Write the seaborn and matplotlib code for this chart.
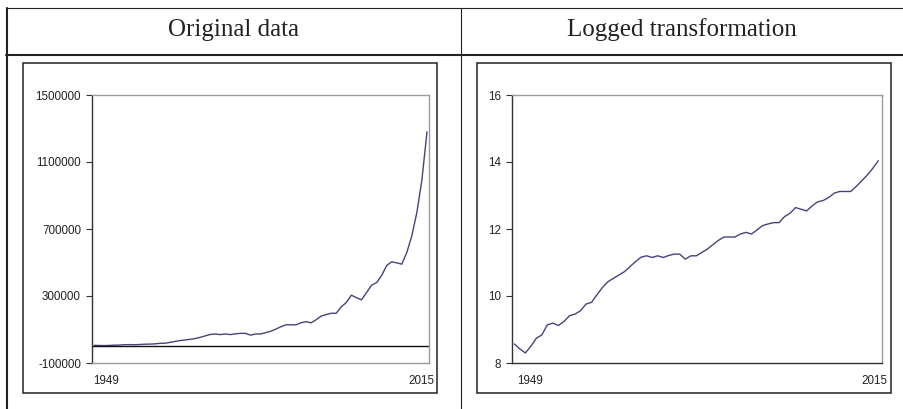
import numpy as np
import pandas as pd
import seaborn as sns
import matplotlib
matplotlib.use("Agg")
import matplotlib.pyplot as plt
from matplotlib.lines import Line2D
from matplotlib.patches import Rectangle

# ---- data -----------------------------------------------------------------
years = list(range(1949, 2016))

original = [5300, 4500, 4000, 4900, 6300, 6900, 9300, 9800, 9100, 10300,
            12200, 12800, 14200, 17300, 18200, 22900, 28600, 33900, 37500, 41400,
            45800, 53200, 61800, 70400, 73300, 69700, 73300, 69700, 74000, 77000,
            77000, 66300, 73300, 73300, 81000, 89500, 101900, 116000, 128000, 128000,
            128000, 140000, 147000, 140000, 158000, 180000, 189000, 197000, 197000, 236000,
            261000, 305000, 290000, 277000, 320000, 364000, 380000, 422000, 482000, 504000,
            498000, 490000, 560000, 660000, 800000, 995000, 1280000]

logged = [8.57, 8.42, 8.30, 8.50, 8.74, 8.84, 9.14, 9.19, 9.12, 9.24,
          9.41, 9.46, 9.56, 9.76, 9.81, 10.04, 10.26, 10.43, 10.53, 10.63,
          10.73, 10.88, 11.03, 11.16, 11.20, 11.15, 11.20, 11.15, 11.21, 11.25,
          11.25, 11.10, 11.20, 11.20, 11.30, 11.40, 11.53, 11.66, 11.76, 11.76,
          11.76, 11.85, 11.90, 11.85, 11.97, 12.10, 12.15, 12.19, 12.19, 12.37,
          12.47, 12.64, 12.59, 12.54, 12.69, 12.81, 12.85, 12.94, 13.07, 13.12,
          13.12, 13.12, 13.27, 13.44, 13.61, 13.81, 14.04]

headers = ["Original data", "Logged transformation"]
orig_ticks = [-100000, 300000, 700000, 1100000, 1500000]
log_ticks = [8, 10, 12, 14, 16]
end_labels = ["1949", "2015"]

df = pd.DataFrame({"year": years, "original": original, "logged": logged})

# ---- styling --------------------------------------------------------------
sns.set_style("white")
plt.rcParams["font.family"] = ["Liberation Sans", "DejaVu Sans"]

W, H = 904, 409
LINE_COLOR = "#45447a"
DARK = "#222222"
GREY = "#9a9a9a"


def fx(x):
    return x / W


def fy(y):
    return 1 - y / H


fig = plt.figure(figsize=(W / 100, H / 100), dpi=100)
fig.patch.set_facecolor("white")

# ---- table frame ----------------------------------------------------------
def hline(y, x0, x1, lw):
    fig.add_artist(Line2D([fx(x0), fx(x1)], [fy(y), fy(y)],
                          transform=fig.transFigure, color=DARK, lw=lw))


def vline(x, y0, y1, lw):
    fig.add_artist(Line2D([fx(x), fx(x)], [fy(y0), fy(y1)],
                          transform=fig.transFigure, color=DARK, lw=lw))


hline(8, 6, 904, 0.8)
hline(55, 6, 904, 1.5)
vline(7, 8, 409, 1.5)
vline(461, 8, 409, 0.8)

fig.text(fx(234), fy(30), headers[0], ha="center", va="center",
         fontsize=18, family=["Liberation Serif", "DejaVu Serif"], color=DARK)
fig.text(fx(682), fy(30), headers[1], ha="center", va="center",
         fontsize=18, family=["Liberation Serif", "DejaVu Serif"], color=DARK)

# chart boxes inside each cell
for x0, x1 in [(23, 437), (477, 891)]:
    fig.add_artist(Rectangle((fx(x0), fy(393)), fx(x1) - fx(x0), fy(63) - fy(393),
                             transform=fig.transFigure, fill=False,
                             edgecolor=DARK, lw=1.1))

# ---- axes -----------------------------------------------------------------
ax1 = fig.add_axes([fx(92), fy(363), (429 - 92) / W, (363 - 95) / H])
ax2 = fig.add_axes([fx(512), fy(363), (882 - 512) / W, (363 - 95) / H])

sns.lineplot(data=df, x="year", y="original", ax=ax1, color=LINE_COLOR, lw=1)
sns.lineplot(data=df, x="year", y="logged", ax=ax2, color=LINE_COLOR, lw=1)

ax1.set_ylim(orig_ticks[0], orig_ticks[-1])
ax1.set_yticks(orig_ticks)
ax1.set_yticklabels([str(v) for v in orig_ticks])
ax1.set_xlim(1948.55, 2015.4)
ax1.axhline(0, color="#111111", lw=1)

ax2.set_ylim(log_ticks[0], log_ticks[-1])
ax2.set_yticks(log_ticks)
ax2.set_yticklabels([str(v) for v in log_ticks])
ax2.set_xlim(1948.58, 2015.67)

for ax, bottom_dark, lab_pos in [(ax1, False, (0.003, 1.015)),
                                 (ax2, True, (0.0135, 1.0135))]:
    ax.set_xlabel("")
    ax.set_ylabel("")
    ax.set_xticks([])
    for side in ["top", "right", "bottom", "left"]:
        ax.spines[side].set_visible(True)
        ax.spines[side].set_color(GREY)
        ax.spines[side].set_linewidth(1)
    ax.spines["left"].set_color("#333333")
    if bottom_dark:
        ax.spines["bottom"].set_color("#333333")
    ax.tick_params(axis="y", direction="out", length=4, width=0.8,
                   color="#333333", pad=4, labelsize=8.4, labelcolor=DARK, left=True)
    ax.text(lab_pos[0], -0.067, end_labels[0], transform=ax.transAxes,
            ha="left", va="center", fontsize=8.4, color=DARK)
    ax.text(lab_pos[1], -0.067, end_labels[1], transform=ax.transAxes,
            ha="right", va="center", fontsize=8.4, color=DARK)

fig.savefig("out.png", dpi=100, facecolor="white")
